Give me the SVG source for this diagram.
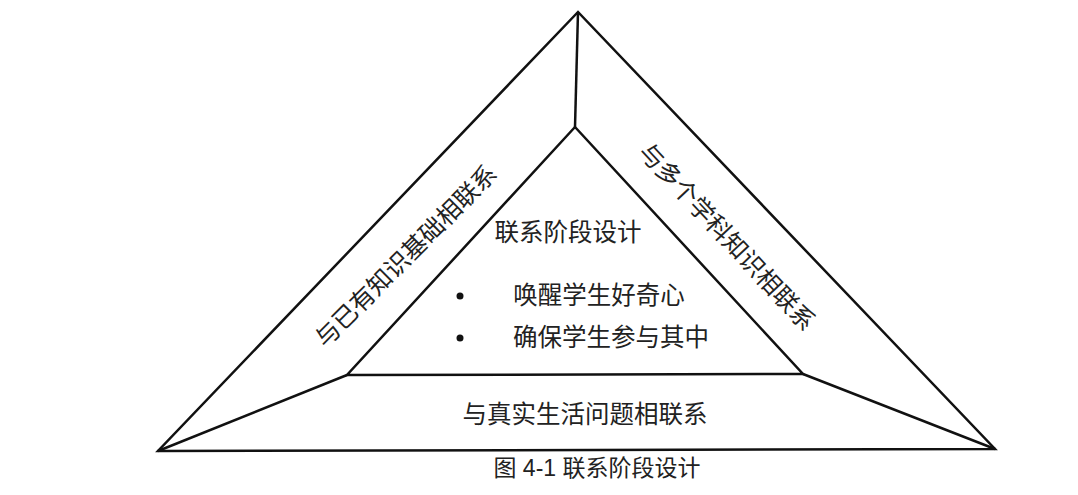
<svg xmlns="http://www.w3.org/2000/svg" width="1078" height="495" viewBox="0 0 1078 495">
<style>
.ln{stroke:#111;stroke-width:2.5;fill:none;stroke-linejoin:miter}
.t{font-family:"Liberation Serif","Noto Sans CJK SC",serif;font-size:24.5px;fill:#222;dominant-baseline:central;text-anchor:middle}
.cap{font-family:"Liberation Sans","Noto Sans CJK SC",sans-serif;font-size:23px;fill:#222;dominant-baseline:central;text-anchor:middle}
</style>
<rect width="1078" height="495" fill="#fff"/>
<g id="connectors">
<polygon class="ln" points="578,12 158,451 995,449"/>
<polygon class="ln" points="575,127 347,375 803,374"/>
<line class="ln" x1="578" y1="12" x2="575" y2="127"/>
<line class="ln" x1="158" y1="451" x2="347" y2="375"/>
<line class="ln" x1="995" y1="449" x2="803" y2="374"/>
</g>
<g id="center">
<text class="t" x="568" y="232">联系阶段设计</text>
<circle cx="460" cy="296" r="3.5" fill="#111"/>
<circle cx="460" cy="338" r="3.5" fill="#111"/>
<text class="t" x="599" y="295">唤醒学生好奇心</text>
<text class="t" x="611" y="337">确保学生参与其中</text>
</g>
<g id="left">
<text class="t" transform="translate(406,256) rotate(-45)" x="0" y="0">与已有知识基础相联系</text>
</g>
<g id="right">
<text class="t" transform="translate(727,237) rotate(47)" x="0" y="0">与多个学科知识相联系</text>
</g>
<g id="bottom">
<text class="t" x="585" y="414">与真实生活问题相联系</text>
</g>
<g id="caption">
<text class="cap" x="597" y="468">图 4-1 联系阶段设计</text>
</g>
</svg>
